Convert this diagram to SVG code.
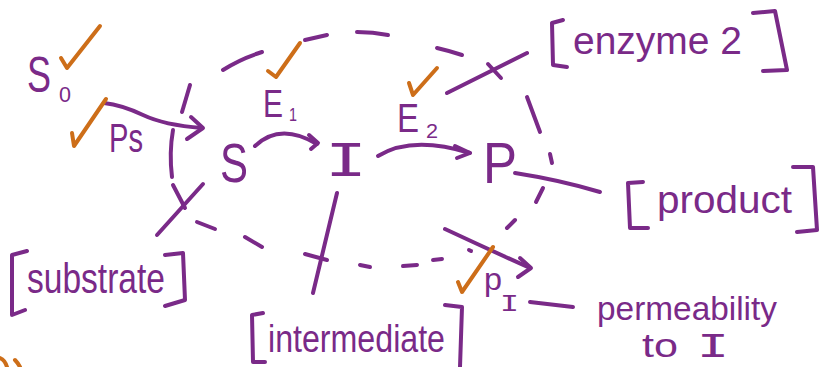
<svg xmlns="http://www.w3.org/2000/svg" width="819" height="367" viewBox="0 0 819 367">
  <style>
    .ink { fill: none; stroke: #7A2A88; stroke-width: 4; stroke-linecap: round; stroke-linejoin: round; }
    .tick { fill: none; stroke: #CD6E19; stroke-width: 4; stroke-linecap: round; stroke-linejoin: round; }
    .lbl { fill: #7A2A88; font-family: "Liberation Sans", Arial, sans-serif; }
    .bar { fill: #7A2A88; font-family: "DejaVu Sans Mono", "Liberation Mono", monospace; }
  </style>
  <rect width="819" height="367" fill="#ffffff"/>

  <!-- dashed compartment boundary -->
  <g id="boundary" class="ink">
    <path d="M223,70 Q240,59 262,52"/>
    <path d="M305,40 L327,35"/>
    <path d="M357,32 Q373,32 388,35"/>
    <path d="M437,48 Q450,51 462,55"/>
    <path d="M488,64 L501,78"/>
    <path d="M527,97 L540,132"/>
    <path d="M550,154 L552,163"/>
    <path d="M543,188 L536,202"/>
    <path d="M515,220 L507,228"/>
    <path d="M469,250 L471,251"/>
    <path d="M433,260 L442,259"/>
    <path d="M403,266 L417,265"/>
    <path d="M360,265 L370,267"/>
    <path d="M305,254 L327,260"/>
    <path d="M245,237 L262,247"/>
    <path d="M197,222 L215,229"/>
    <path d="M173,185 L185,208"/>
    <path d="M173,130 Q169,153 172,177"/>
    <path d="M190,85 L182,112"/>
  </g>

  <!-- connectors -->
  <g id="connectors" class="ink">
    <path d="M104,103 Q122,105 143,115 T202,128"/>
    <path d="M191,117 L203,128 L187,139"/>
    <path d="M255,146 Q280,122 317,144"/>
    <path d="M309,135 L318,143 L311,149"/>
    <path d="M378,156 Q412,135 470,153"/>
    <path d="M455,146 L470,153 L457,158"/>
    <path d="M447,93 L527,53"/>
    <path d="M515,173 Q560,180 600,192"/>
    <path d="M157,235 L203,184"/>
    <path d="M337,193 L313,293"/>
    <path d="M445,229 Q490,250 530,268"/>
    <path d="M520,258 L531,268 L518,277"/>
    <path d="M530,302 L573,307"/>
  </g>

  <!-- species and parameters -->
  <g id="node-S0">
    <text class="lbl" transform="translate(27,92) scale(0.72,1)" font-size="50">S</text>
    <text class="lbl" x="59" y="102" font-size="22" textLength="12" lengthAdjust="spacingAndGlyphs">0</text>
  </g>
  <g id="node-Ps">
    <text class="lbl" x="109" y="152" font-size="40" textLength="34" lengthAdjust="spacingAndGlyphs">Ps</text>
  </g>
  <g id="node-S">
    <text class="lbl" x="220" y="182" font-size="56" textLength="28" lengthAdjust="spacingAndGlyphs">S</text>
  </g>
  <g id="node-E1">
    <text class="lbl" x="263" y="117" font-size="38" textLength="20" lengthAdjust="spacingAndGlyphs">E</text>
    <text class="lbl" x="289" y="121" font-size="18" textLength="8" lengthAdjust="spacingAndGlyphs">1</text>
  </g>
  <g id="node-I">
    <text class="bar" x="325" y="176" font-size="45" textLength="42" lengthAdjust="spacingAndGlyphs">I</text>
  </g>
  <g id="node-E2">
    <text class="lbl" x="397" y="132" font-size="40" textLength="22" lengthAdjust="spacingAndGlyphs">E</text>
    <text class="lbl" x="426" y="138" font-size="20" textLength="12" lengthAdjust="spacingAndGlyphs">2</text>
  </g>
  <g id="node-P">
    <text class="lbl" x="483" y="183" font-size="58" textLength="34" lengthAdjust="spacingAndGlyphs">P</text>
  </g>
  <g id="node-PI">
    <text class="lbl" x="484" y="290" font-size="32" textLength="18" lengthAdjust="spacingAndGlyphs">p</text>
    <text class="bar" x="500" y="311" font-size="22" textLength="19" lengthAdjust="spacingAndGlyphs">I</text>
  </g>

  <!-- bracketed quantities -->
  <g id="node-enzyme2">
    <path class="ink" d="M563,20 L552,23 L553,65 L567,67"/>
    <text class="lbl" x="573" y="54" font-size="38" textLength="169" lengthAdjust="spacingAndGlyphs">enzyme 2</text>
    <path class="ink" d="M753,13 L775,11 L787,70 L763,71"/>
  </g>
  <g id="node-product">
    <path class="ink" d="M643,182 L628,183 L630,228 L648,228"/>
    <text class="lbl" x="657" y="213" font-size="38" textLength="135" lengthAdjust="spacingAndGlyphs">product</text>
    <path class="ink" d="M793,167 L813,167 L817,230 L797,232"/>
  </g>
  <g id="node-substrate">
    <path class="ink" d="M27,251 L12,255 L12,315 L25,310"/>
    <text class="lbl" x="27" y="293" font-size="42" textLength="138" lengthAdjust="spacingAndGlyphs">substrate</text>
    <path class="ink" d="M165,255 L183,253 L185,300 L165,306"/>
  </g>
  <g id="node-intermediate">
    <path class="ink" d="M263,313 L252,315 L253,362 L265,362"/>
    <text class="lbl" x="268" y="352" font-size="38" textLength="177" lengthAdjust="spacingAndGlyphs">intermediate</text>
    <path class="ink" d="M445,305 L462,307 L460,367"/>
  </g>
  <g id="node-permeability">
    <text class="lbl" x="597" y="320" font-size="34" textLength="180" lengthAdjust="spacingAndGlyphs">permeability</text>
    <text class="lbl" x="642" y="357" font-size="34" textLength="36" lengthAdjust="spacingAndGlyphs">to</text>
    <text class="bar" x="697" y="357" font-size="32" textLength="32" lengthAdjust="spacingAndGlyphs">I</text>
  </g>

  <!-- check marks -->
  <g id="checks" class="tick">
    <path d="M61,58 L67,68 L100,26"/>
    <path d="M72,133 L74,146 L106,99"/>
    <path d="M268,71 L276,77 L300,43"/>
    <path d="M409,83 L413,95 L437,68"/>
    <path d="M458,282 L462,292 L493,247"/>
    <path d="M0,358 Q5,360 7,367"/>
    <path d="M15,360 Q18,363 20,367"/>
  </g>
</svg>
